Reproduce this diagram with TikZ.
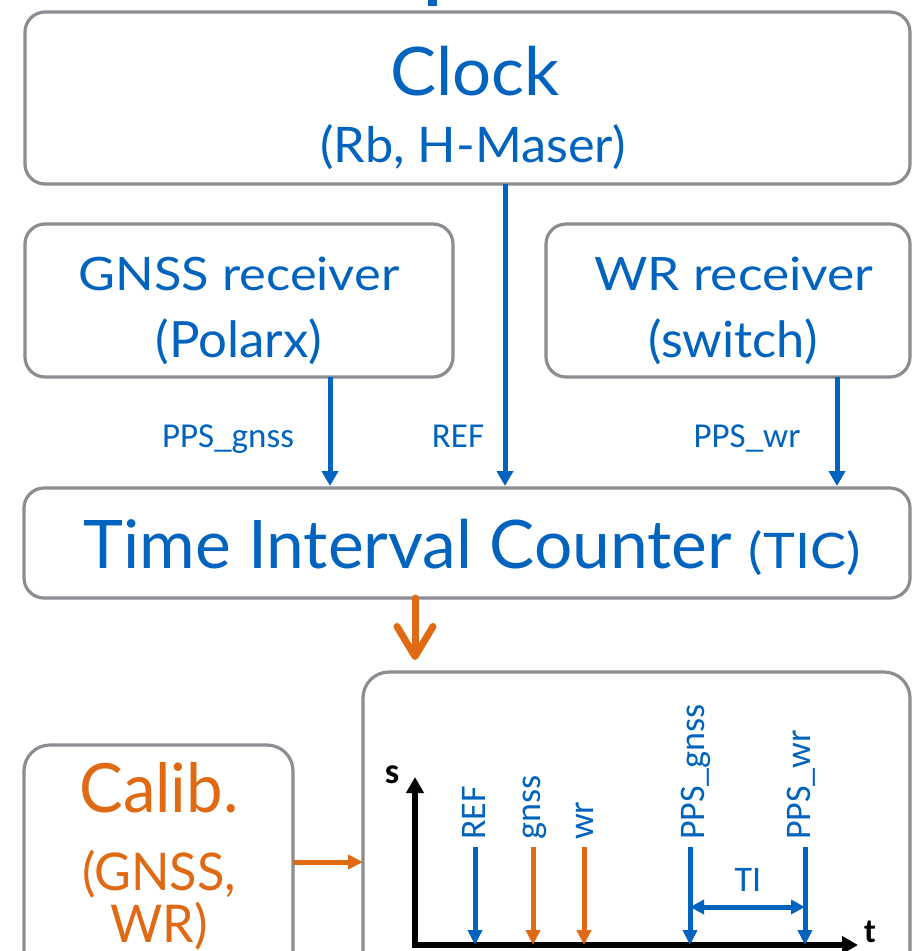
\documentclass[tikz,border=0pt]{standalone}
\usepackage{fontspec}
\usepackage{graphicx}
\setmainfont{Lato}
\newfontfamily\lblfont{Carlito}
\usetikzlibrary{arrows.meta}
\definecolor{cblue}{RGB}{0,99,190}
\definecolor{corange}{RGB}{224,106,20}
\definecolor{cgray}{RGB}{138,141,145}
\newcommand{\fs}[1]{\fontsize{#1}{#1}\selectfont}
\newcommand{\sx}[2]{\scalebox{#1}[1]{#2}}
\begin{document}
\begin{tikzpicture}[x=1pt,y=-1pt,
  box/.style={draw=cgray, line width=3.2pt, rounded corners=20pt, inner sep=0pt, outer sep=0pt},
  txt/.style={text=cblue, anchor=base, inner sep=0pt},
  otxt/.style={text=corange, anchor=base, inner sep=0pt},
  lbl/.style={text=cblue, anchor=base, inner sep=0pt, font=\lblfont\fs{35}},
  clbl/.style={text=cblue, anchor=base west, rotate=90, inner sep=0pt, font=\lblfont\fs{36}},
  barr/.style={draw=cblue, line width=5pt, -{Triangle[width=16pt,length=15pt]}},
  carr/.style={draw=cblue, line width=5pt, -{Triangle[width=14pt,length=15pt]}},
  oarr/.style={draw=corange, line width=5pt, -{Triangle[width=14pt,length=15pt]}},
  axis/.style={draw=black, line width=5.5pt, line join=miter, {Triangle[width=17pt,length=16pt]}-{Triangle[width=17pt,length=16pt]}}
]
\useasboundingbox (0,0) rectangle (913,951);
\clip (0,0) rectangle (913,951);
\fill[white] (0,0) rectangle (913,951);
% stray mark at top
\fill[cblue] (428,0) rectangle (437,6);
% boxes
\node[box, minimum width=885pt, minimum height=172pt] (clock) at (467.5,98) {};
\node[box, minimum width=428pt, minimum height=153pt] (gnss) at (239,300.5) {};
\node[box, minimum width=364pt, minimum height=153pt] (wr) at (728,300.5) {};
\node[box, minimum width=886pt, minimum height=110pt] (tic) at (467,543) {};
\node[box, minimum width=547pt, minimum height=318pt, rounded corners=26pt] (graph) at (636.5,831) {};
\node[box, minimum width=269pt, minimum height=245pt, rounded corners=26pt] (calib) at (158.5,867.5) {};
% texts
\node[txt, font=\fs{67}] (tclock) at (475,95) {\sx{1.03}{Clock}};
\node[txt, font=\fs{49}] (tclock2) at (473,162) {\sx{1.03}{(Rb, H-Maser)}};
\node[txt, font=\fs{46}] (tgnss) at (239,290) {\sx{1.1}{GNSS receiver}};
\node[txt, font=\fs{50}] (tgnss2) at (239,357) {\sx{1.02}{(Polarx)}};
\node[txt, font=\fs{46}] (twr) at (734,290) {\sx{1.12}{WR receiver}};
\node[txt, font=\fs{50}] (twr2) at (733,357) {\sx{1.01}{(switch)}};
\node[txt, font=\fs{67}] (ttic) at (472,568) {\sx{1.01}{Time Interval Counter} \sx{1.1}{\fs{49}(TIC)}};
\node[otxt, font=\fs{68}] (tcal) at (159,812) {\sx{0.96}{Calib.}};
\node[otxt, font=\fs{52}] (tcal2) at (159,890) {\sx{0.97}{(GNSS,}};
\node[otxt, font=\fs{52}] (tcal3) at (159,942) {\sx{0.97}{WR)}};
% connector labels
\node[lbl] (lgnss) at (228,447) {PPS\_gnss};
\node[lbl] (lref) at (458,447) {REF};
\node[lbl] (lwr) at (747,447) {PPS\_wr};
% connectors
\coordinate (xg) at (330,0);
\coordinate (xr) at (505,0);
\coordinate (xw) at (837,0);
\coordinate (xo) at (415,0);
\draw[barr] (clock.south -| xr) -- ([yshift=2pt]tic.north -| xr);
\draw[barr] (gnss.south -| xg) -- ([yshift=2pt]tic.north -| xg);
\draw[barr] (wr.south -| xw) -- ([yshift=2pt]tic.north -| xw);
\draw[draw=corange, line width=7pt, line cap=round, -{Straight Barb[length=30pt,width=36pt,round]}] (tic.south -| xo) -- ([yshift=12pt]graph.north -| xo);
\coordinate (ycal) at (0,862);
\draw[oarr] (calib.east |- ycal) -- (graph.west |- ycal);
% chart
\coordinate (as) at (415,777);
\coordinate (ao) at (415,945);
\coordinate (at) at (858,945);
\draw[axis] (as) -- (ao) -- (at);
\node[inner sep=0pt, anchor=base, font=\lblfont\bfseries\fs{36}] (ls) at (392,783) {s};
\node[inner sep=0pt, anchor=base, font=\lblfont\bfseries\fs{34}] (lt) at (870,942) {t};
\coordinate (a1) at (475,847);
\coordinate (a2) at (533,847);
\coordinate (a3) at (584,847);
\coordinate (a4) at (690,847);
\coordinate (a5) at (805,847);
\draw[carr] (a1) -- (a1 |- ao);
\draw[oarr] (a2) -- (a2 |- ao);
\draw[oarr] (a3) -- (a3 |- ao);
\draw[carr] (a4) -- (a4 |- ao);
\draw[carr] (a5) -- (a5 |- ao);
\node[clbl] (c1) at (485,840) {REF};
\node[clbl] (c2) at (540,840) {gnss};
\node[clbl] (c3) at (593,840) {wr};
\node[clbl] (c4) at (704,840) {PPS\_gnss};
\node[clbl] (c5) at (810,840) {PPS\_wr};
\coordinate (ti) at (0,907);
\draw[draw=cblue, line width=5pt, {Triangle[width=14pt,length=14pt]}-{Triangle[width=14pt,length=14pt]}] (a4 |- ti) -- (a5 |- ti);
\node[lbl, font=\lblfont\fs{36}] (lti) at (748,891) {TI};
\end{tikzpicture}
\end{document}
